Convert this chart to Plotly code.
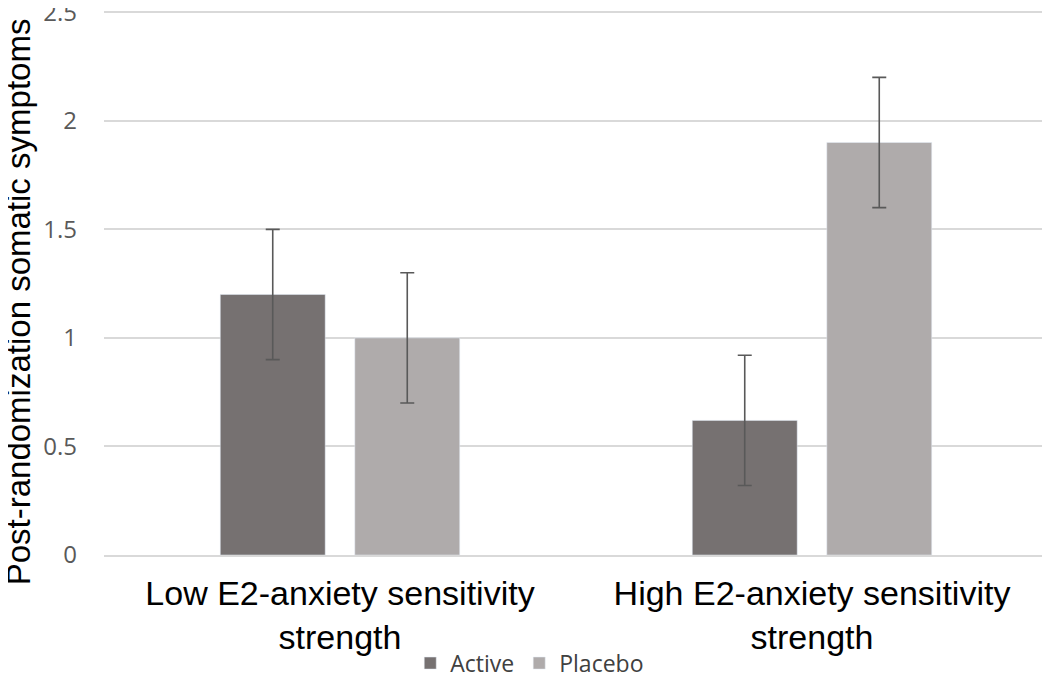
import plotly.graph_objects as go

# group labels and values
groups = ["Low E2-anxiety sensitivity<br>strength", "High E2-anxiety sensitivity<br>strength"]
active = [1.2, 0.62]
placebo = [1.0, 1.9]
active_err = [0.3, 0.3]
placebo_err = [0.3, 0.3]

fig = go.Figure()
fig.add_trace(go.Bar(x=groups, y=active, name="Active", marker_color="#767171",
                     error_y=dict(type="data", array=active_err, color="#595959",
                                  thickness=1.6, width=7)))
fig.add_trace(go.Bar(x=groups, y=placebo, name="Placebo", marker_color="#AFABAB",
                     error_y=dict(type="data", array=placebo_err, color="#595959",
                                  thickness=1.6, width=7)))

# note: page body adds ~8px offset, margins below account for that
fig.update_layout(
    width=1050, height=680,
    plot_bgcolor="white", paper_bgcolor="white",
    margin=dict(l=96, r=10, t=1, b=133, autoexpand=False),
    barmode="group", bargap=0.43, bargroupgap=0.22,
    font=dict(family="Liberation Sans, Arial, sans-serif"),
    legend=dict(orientation="h", x=0.451, xanchor="center", y=-0.198, yanchor="middle",
                font=dict(size=23, color="#404040", family="Open Sans"), traceorder="normal"),
)
# y title placed as annotation so it sits at the far left edge
fig.add_annotation(text="Post-randomization somatic symptoms", xref="paper", yref="paper",
                   x=-0.091, y=0.463, xanchor="center", yanchor="middle", textangle=-90,
                   showarrow=False, font=dict(size=33, color="black"))
fig.update_yaxes(range=[0, 2.515], tickvals=[0, 0.5, 1, 1.5, 2, 2.5],
                 ticktext=["0", "0.5", "1", "1.5", "2", "2.5"],
                 showgrid=True, gridcolor="#D9D9D9", gridwidth=1.5,
                 zeroline=False, showline=False, automargin=False,
                 ticklabeloverflow="allow",
                 tickfont=dict(size=24, color="#595959", family="Open Sans"), ticklabelstandoff=26)
fig.update_xaxes(showline=True, linecolor="#D9D9D9", linewidth=1.5, automargin=False,
                 tickfont=dict(size=34, color="black"), ticks="", ticklabelstandoff=7)

fig.write_html("out.html")
